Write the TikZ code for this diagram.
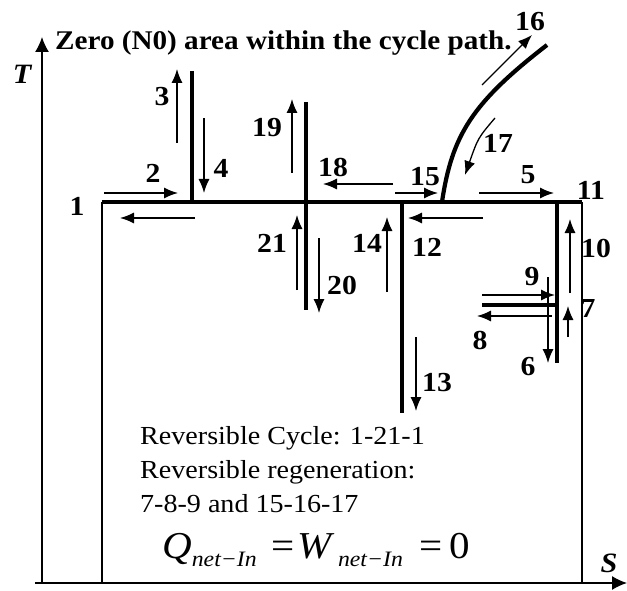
\documentclass[tikz,border=0pt]{standalone}
\usepackage{fontspec}
\setmainfont{Liberation Serif}[FakeStretch=1.08]
\usetikzlibrary{arrows.meta}
\begin{document}
\begin{tikzpicture}[x=1pt,y=-1pt,
  thickln/.style={line width=4.2pt},
  thinln/.style={line width=1.4pt},
  arr/.style={line width=1.3pt,-{Latex[length=14pt,width=11pt]}},
  axis/.style={line width=1.4pt,-{Latex[length=15pt,width=14pt]}},
  lbl/.style={inner sep=0pt,font=\fontsize{27.5}{28}\selectfont\bfseries},
  body/.style={inner sep=0pt,anchor=base west,font=\fontsize{26}{28}\selectfont}]
\path[use as bounding box] (0,0) rectangle (627,591);
% axes
\coordinate (o) at (42,583);
\coordinate (sx0) at (35,583);
\coordinate (sx1) at (627,583);
\coordinate (ty1) at (42,37);
\draw[axis] (sx0) -- (sx1);
\draw[axis] (o) -- (ty1);
\node[lbl,font=\fontsize{28}{28}\selectfont\bfseries\itshape] (T) at (22,74) {T};
\node[lbl,font=\fontsize{28}{28}\selectfont\bfseries\itshape] (S) at (609,563) {S};
\node[inner sep=0pt,anchor=base west,font=\fontsize{27}{28}\selectfont\bfseries] (title) at (55,50) {Zero (N0) area within the cycle path.};
% thin box sides
\coordinate (bl) at (102,583);
\coordinate (tl) at (102,202);
\coordinate (tr) at (582,202);
\coordinate (br) at (582,583);
\draw[thinln] (bl) -- (tl);
\draw[thinln] (br) -- (tr);
% thick lines
\draw[thickln] (tl) -- (tr);
\coordinate (v1a) at (192,71);  \coordinate (v1b) at (192,202);
\coordinate (v2a) at (306,102); \coordinate (v2b) at (306,310);
\coordinate (v3a) at (402,202); \coordinate (v3b) at (402,413);
\coordinate (v4a) at (557,202); \coordinate (v4b) at (557,363);
\coordinate (h2a) at (482,305); \coordinate (h2b) at (557,305);
\draw[thickln] (v1a) -- (v1b);
\draw[thickln] (v2a) -- (v2b);
\draw[thickln] (v3a) -- (v3b);
\draw[thickln] (v4a) -- (v4b);
\draw[thickln] (h2a) -- (h2b);
\coordinate (c0) at (442,202);
\coordinate (c1) at (547,45);
\draw[thickln] (c0) .. controls (452,135) and (472,103) .. (c1);
% thin arrows
\draw[arr] (104,193) -- (178,193);
\draw[arr] (195,218) -- (120,218);
\draw[arr] (177,143) -- (177,69);
\draw[arr] (204,118) -- (204,193);
\draw[arr] (292,173) -- (292,99);
\draw[arr] (393,184) -- (323,184);
\draw[arr] (395,193) -- (438,193);
\draw[arr] (482,85) -- (532,35);
\draw[arr] (495,118) .. controls (478,138) .. (465,175);
\draw[arr] (479,193) -- (554,193);
\draw[arr] (483,218) -- (408,218);
\draw[arr] (297,290) -- (297,215);
\draw[arr] (319,238) -- (319,313);
\draw[arr] (387,292) -- (387,217);
\draw[arr] (416,337) -- (416,411);
\draw[arr] (482,295) -- (555,295);
\draw[arr] (552,316) -- (477,316);
\draw[arr] (548,277) -- (548,363);
\draw[arr] (568,337) -- (568,306);
\draw[arr] (570,293) -- (570,219);
% labels
\node[lbl] (n1) at (77,206) {1};
\node[lbl] (n2) at (153,173) {2};
\node[lbl] (n3) at (162,97) {3};
\node[lbl] (n4) at (221,168) {4};
\node[lbl] (n5) at (528,175) {5};
\node[lbl] (n6) at (528,367) {6};
\node[lbl] (n7) at (588,308) {7};
\node[lbl] (n8) at (480,340) {8};
\node[lbl] (n9) at (532,277) {9};
\node[lbl] (n10) at (596,248) {10};
\node[lbl] (n11) at (591,190) {11};
\node[lbl] (n12) at (427,247) {12};
\node[lbl] (n13) at (437,383) {13};
\node[lbl] (n14) at (367,243) {14};
\node[lbl] (n15) at (425,177) {15};
\node[lbl] (n16) at (530,22) {16};
\node[lbl] (n17) at (498,143) {17};
\node[lbl] (n18) at (333,167) {18};
\node[lbl] (n19) at (267,128) {19};
\node[lbl] (n20) at (342,285) {20};
\node[lbl] (n21) at (272,243) {21};
% text block
\node[body] (t1) at (140,444) {Reversible Cycle: 1-21-1};
\node[body] (t2) at (140,478) {Reversible regeneration:};
\node[body] (t3) at (140,512) {7-8-9 and 15-16-17};
\node[inner sep=0pt,anchor=base west] (eq) at (162,558) {\fontsize{38}{40}\selectfont\itshape Q\raisebox{-8pt}{\fontsize{22}{24}\selectfont net\textminus In}\hspace{15pt}\upshape=\hspace{3pt}\itshape W\hspace{6pt}\raisebox{-8pt}{\fontsize{22}{24}\selectfont net\textminus In}\hspace{17pt}\upshape=\hspace{7pt}0};
\end{tikzpicture}
\end{document}
